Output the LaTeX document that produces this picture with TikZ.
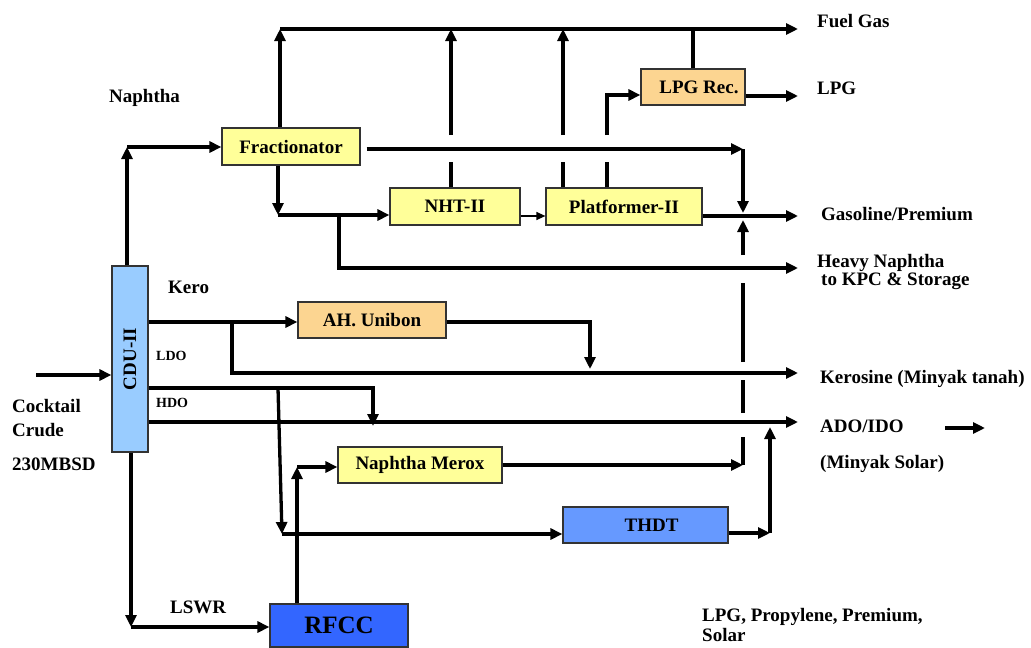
\documentclass[tikz,border=0pt]{standalone}
\usepackage{fontspec}
\setmainfont{Liberation Serif}
\usetikzlibrary{arrows.meta,calc}
\definecolor{ylw}{HTML}{FFFF99}
\definecolor{org}{HTML}{FCD591}
\definecolor{cdub}{HTML}{99CCFF}
\definecolor{thdtb}{HTML}{6699FF}
\definecolor{rfccb}{HTML}{3366FF}
\begin{document}
\begin{tikzpicture}[x=1pt,y=-1pt,line join=miter,
 box/.style={draw=black!80, line width=1.2pt, inner sep=0pt, font=\bfseries\fontsize{19}{20}\selectfont},
 lbl/.style={anchor=west, inner sep=0pt, text height=12.5pt, text depth=0pt, font=\bfseries\fontsize{19}{20}\selectfont},
 slbl/.style={anchor=west, inner sep=0pt, text height=9.3pt, text depth=0pt, font=\bfseries\fontsize{14}{15}\selectfont},
 flow/.style={line width=3.3pt, -{Triangle[length=12pt,width=11pt]}},
 pipe/.style={line width=3.3pt},
 thinflow/.style={line width=1.2pt, -{Triangle[length=9pt,width=8pt]}}]
\useasboundingbox (0,0) rectangle (1031,648);
% boxes
\node[box, fill=cdub, minimum width=36pt, minimum height=186pt] (cdu) at (130,359) {\rotatebox{90}{CDU-II}};
\node[box, fill=ylw, minimum width=138pt, minimum height=37pt] (frac) at (291,146.5) {Fractionator};
\node[box, fill=ylw, minimum width=130pt, minimum height=37pt] (nht) at (455,206.5) {NHT-II};
\node[box, fill=ylw, minimum width=156pt, minimum height=37pt] (plat) at (624,206.5) {Platformer-II};
\node[box, fill=org, minimum width=104pt, minimum height=36pt] (lpgrec) at (693,87) {\hspace{12pt}LPG Rec.};
\node[box, fill=org, minimum width=148pt, minimum height=36pt] (ahu) at (372,320) {AH. Unibon};
\node[box, fill=ylw, minimum width=164pt, minimum height=36pt] (merox) at (420,465) {Naphtha Merox};
\node[box, fill=thdtb, minimum width=165pt, minimum height=36pt] (thdt) at (645.5,525) {\hspace{12pt}THDT};
\node[box, fill=rfccb, minimum width=138pt, minimum height=43pt, font=\bfseries\fontsize{25}{26}\selectfont] (rfcc) at (339,625.5) {RFCC};
% labels
\node[lbl] (l1) at (109,96) {Naphtha};
\node[lbl] (l2) at (168,287) {Kero};
\node[slbl] (l3) at (156,356) {LDO};
\node[slbl] (l4) at (156,403) {HDO};
\node[lbl] (l5) at (12,406) {Cocktail};
\node[lbl] (l6) at (12,430) {Crude};
\node[lbl] (l7) at (12,464) {230MBSD};
\node[lbl] (l8) at (170,607) {LSWR};
\node[lbl] (l9) at (817,21) {Fuel Gas};
\node[lbl] (l10) at (817,88) {LPG};
\node[lbl] (l11) at (821,214) {Gasoline/Premium};
\node[lbl] (l12) at (817,261) {Heavy Naphtha};
\node[lbl] (l13) at (821,279) {to KPC \& Storage};
\node[lbl] (l14) at (820,377) {Kerosine (Minyak tanah)};
\node[lbl] (l15) at (820,426) {ADO/IDO};
\node[lbl] (l16) at (820,462) {(Minyak Solar)};
\node[lbl] (l17) at (702,615) {LPG, Propylene, Premium,};
\node[lbl] (l18) at (702,635) {Solar};
% coordinates
\coordinate (feed) at (36,375);
\coordinate (nap) at (127,147);
\coordinate (fg) at (280,29);
\coordinate (fgout) at (798,29);
\coordinate (fb) at (278,215);
\coordinate (hn) at (339,268);
\coordinate (hnout) at (798,268);
\coordinate (fr) at (743,149);
\coordinate (gs) at (743,216);
\coordinate (gsout) at (798,216);
\coordinate (n1) at (451,29);
\coordinate (p1) at (563,29);
\coordinate (p2) at (607,95);
\coordinate (lpgout) at (798,96);
\coordinate (ke) at (232,322);
\coordinate (keout) at (798,373);
\coordinate (au) at (590,322);
\coordinate (hd) at (373,388);
\coordinate (sl) at (278,388);
\coordinate (th) at (282,534);
\coordinate (adout) at (798,422);
\coordinate (tu) at (770,533);
\coordinate (rr) at (297,467);
\coordinate (mo) at (743,465);
\coordinate (ls) at (131,627);
\coordinate (sa1) at (945,428);
\coordinate (sa2) at (985,428);
% connectors
\draw[flow] (feed) -- (feed -| cdu.west);
\draw[flow] (cdu.north -| nap) -- (nap);
\draw[flow] (nap) -- (nap -| frac.west);
\draw[flow] (frac.north -| fg) -- (fg);
\draw[flow] (fg) -- (fgout);
\draw[flow] (frac.south -| fb) -- (fb);
\draw[flow] (fb) -- (fb -| nht.west);
\draw[flow] (fb -| hn) -- (hn) -- (hnout);
\draw[flow] ($(frac.east |- fr)+(6,0)$) -- (fr);
\draw[flow] (fr) -- ($(gs)+(0,-3)$);
\draw[flow] (plat.east |- gsout) -- (gsout);
\draw[thinflow] (nht.east |- gs) -- (plat.west |- gs);
\draw[pipe] (nht.north -| n1) -- ($(n1)+(0,133)$);
\draw[flow] ($(n1)+(0,106)$) -- (n1);
\draw[pipe] (plat.north -| p1) -- ($(p1)+(0,133)$);
\draw[flow] ($(p1)+(0,106)$) -- (p1);
\draw[pipe] (plat.north -| p2) -- ($(p2)+(0,67)$);
\draw[flow] ($(p2)+(0,40)$) -- (p2) -- (p2 -| lpgrec.west);
\draw[pipe] (lpgrec.north) -- (lpgrec.north |- fg);
\draw[flow] (lpgrec.east |- lpgout) -- (lpgout);
\draw[flow] (cdu.east |- ke) -- (ke -| ahu.west);
\draw[flow] (ke) -- (ke |- keout) -- (keout);
\draw[flow] (ahu.east |- au) -- (au) -- ($(au |- keout)+(0,-4)$);
\draw[flow] (cdu.east |- hd) -- (hd) -- ($(hd |- adout)+(0,4)$);
\draw[flow] (sl) -- (th);
\draw[flow] (th) -- (th -| thdt.west);
\draw[flow] (cdu.east |- adout) -- (adout);
\draw[flow] (thdt.east |- tu) -- (tu);
\draw[flow] (tu) -- ($(tu |- adout)+(0,5)$);
\draw[flow] (rfcc.north -| rr) -- (rr);
\draw[flow] (rr) -- (rr -| merox.west);
\draw[flow] (merox.east |- mo) -- (mo);
\draw[pipe] (mo) -- ($(mo)+(0,-28)$);
\draw[pipe] ($(mo)+(0,-52)$) -- ($(mo)+(0,-85)$);
\draw[pipe] ($(mo)+(0,-103)$) -- ($(mo)+(0,-182)$);
\draw[flow] ($(mo)+(0,-210)$) -- ($(gs)+(0,4)$);
\draw[flow] (cdu.south -| ls) -- (ls);
\draw[flow] (ls) -- (ls -| rfcc.west);
\draw[flow] (sa1) -- (sa2);
\end{tikzpicture}
\end{document}
